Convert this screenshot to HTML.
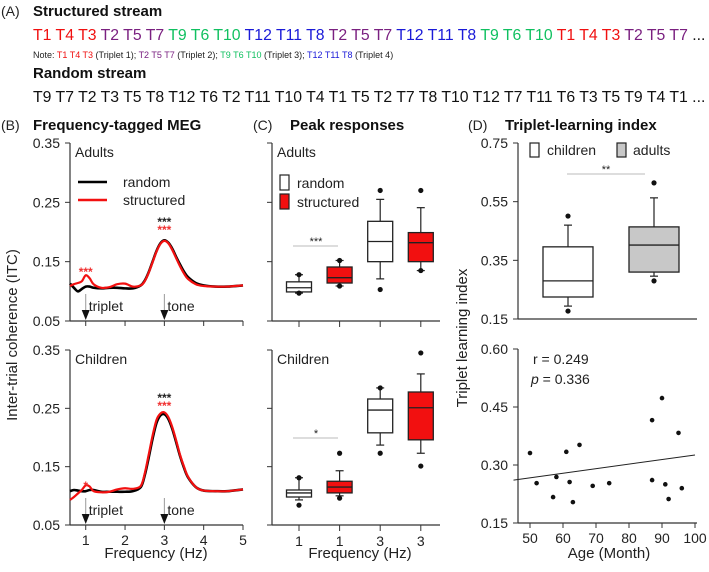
<!DOCTYPE html>
<html><head><meta charset="utf-8"><style>
html,body{margin:0;padding:0;background:#fff;}
svg{display:block;font-family:"Liberation Sans",Arial,sans-serif;}
</style></head><body>
<svg id="fig" width="709" height="572" viewBox="0 0 709 572" xmlns="http://www.w3.org/2000/svg">
<g>
<text x="1" y="16" font-size="14" fill="#222">(A)</text>
<text x="33" y="16" font-size="15" font-weight="bold" fill="#111">Structured stream</text>
<text x="33" y="40" font-size="15.8"><tspan fill="#f01010">T1 T4 T3 </tspan><tspan fill="#7a2080">T2 T5 T7 </tspan><tspan fill="#10c060">T9 T6 T10 </tspan><tspan fill="#1a1ad8">T12 T11 T8 </tspan><tspan fill="#7a2080">T2 T5 T7 </tspan><tspan fill="#1a1ad8">T12 T11 T8 </tspan><tspan fill="#10c060">T9 T6 T10 </tspan><tspan fill="#f01010">T1 T4 T3 </tspan><tspan fill="#7a2080">T2 T5 T7 </tspan><tspan fill="#111">...</tspan></text>
<text x="33" y="58" font-size="9" fill="#222">Note: <tspan fill="#f01010">T1 T4 T3</tspan> (Triplet 1); <tspan fill="#7a2080">T2 T5 T7</tspan> (Triplet 2); <tspan fill="#10c060">T9 T6 T10</tspan> (Triplet 3); <tspan fill="#1a1ad8">T12 T11 T8</tspan> (Triplet 4)</text>
<text x="33" y="78" font-size="15" font-weight="bold" fill="#111">Random stream</text>
<text x="33" y="102" font-size="15.8" fill="#111">T9 T7 T2 T3 T5 T8 T12 T6 T2 T11 T10 T4 T1 T5 T2 T7 T8 T10 T12 T7 T11 T6 T3 T5 T9 T4 T1 ...</text>
</g>
<g id="gB"></g>
<g id="gC"></g>
<g id="gD"></g>
</svg>
<script>
// ---- Panel B data ----
const freqs = [0.6,0.7,0.8,0.9,1.0,1.1,1.2,1.4,1.6,1.8,2.0,2.2,2.4,2.5,2.6,2.7,2.8,2.9,3.0,3.1,3.2,3.3,3.4,3.5,3.6,3.8,4.0,4.3,4.6,5.0];
const adultRandom = [0.113,0.106,0.100,0.104,0.108,0.108,0.106,0.105,0.106,0.106,0.105,0.105,0.110,0.118,0.132,0.150,0.168,0.181,0.186,0.182,0.172,0.158,0.145,0.133,0.124,0.114,0.110,0.108,0.108,0.110];
const adultStructured = [0.109,0.112,0.114,0.117,0.127,0.122,0.112,0.106,0.107,0.112,0.113,0.108,0.110,0.117,0.131,0.149,0.167,0.180,0.185,0.181,0.170,0.156,0.142,0.130,0.121,0.112,0.109,0.108,0.108,0.110];
const childRandom = [0.108,0.110,0.109,0.108,0.108,0.110,0.110,0.107,0.107,0.107,0.107,0.108,0.115,0.135,0.165,0.198,0.225,0.238,0.240,0.232,0.215,0.192,0.168,0.148,0.132,0.115,0.109,0.108,0.108,0.111];
const childStructured = [0.093,0.098,0.104,0.110,0.118,0.116,0.108,0.106,0.107,0.111,0.113,0.112,0.117,0.138,0.170,0.203,0.230,0.241,0.243,0.235,0.218,0.195,0.170,0.150,0.133,0.115,0.109,0.108,0.108,0.111];
const itcTicks = [0.05,0.15,0.25,0.35];
const hzTicks = [1,2,3,4,5];
// ---- Panel C data (whiskerLow, q1, median, q3, whiskerHigh) ----
const boxLabels = ["1","1","3","3"];
const adultBoxes = [[0.097,0.099,0.106,0.116,0.128],[0.109,0.114,0.123,0.141,0.152],[0.121,0.150,0.184,0.218,0.255],[0.135,0.150,0.182,0.199,0.241]];
const adultOutliers = [[0.128,0.097],[0.152,0.109],[0.270,0.103],[0.270,0.135]];
const childBoxes = [[0.093,0.098,0.105,0.110,0.131],[0.100,0.105,0.115,0.125,0.143],[0.187,0.208,0.247,0.266,0.285],[0.173,0.196,0.251,0.278,0.309]];
const childOutliers = [[0.131,0.084],[0.173,0.096],[0.285,0.173],[0.345,0.151]];
// ---- Panel D data ----
const groupNames = ["children","adults"];
const tliBoxes = [[0.194,0.225,0.280,0.396,0.470],[0.296,0.310,0.402,0.464,0.563]];
const tliOutliers = [[0.501,0.177],[0.614,0.280]];
const tliTicks = [0.15,0.35,0.55,0.75];
const ages = [50,52,57,58,61,62,63,65,69,74,87,87,90,91,92,95,96];
const tliValues = [0.331,0.253,0.217,0.269,0.334,0.256,0.204,0.352,0.246,0.253,0.261,0.416,0.473,0.250,0.212,0.383,0.240];
const regIntercept = 0.261, regSlope = 0.00118; // at age 45
const ageTicks = [50,60,70,80,90,100];
const scatTicks = [0.15,0.30,0.45,0.60];

const NS="http://www.w3.org/2000/svg";
function mk(parent,tag,attrs,text){const e=document.createElementNS(NS,tag);for(const k in attrs)e.setAttribute(k,attrs[k]);if(text!==undefined)e.textContent=text;parent.appendChild(e);return e;}
function lin(d0,d1,r0,r1){return v=>r0+(v-d0)/(d1-d0)*(r1-r0);}
function smoothPath(pts){let d=`M${pts[0][0]},${pts[0][1]}`;for(let i=0;i<pts.length-1;i++){const p0=pts[Math.max(0,i-1)],p1=pts[i],p2=pts[i+1],p3=pts[Math.min(pts.length-1,i+2)];const c1=[p1[0]+(p2[0]-p0[0])/6,p1[1]+(p2[1]-p0[1])/6],c2=[p2[0]-(p3[0]-p1[0])/6,p2[1]-(p3[1]-p1[1])/6];d+=` C${c1[0]},${c1[1]} ${c2[0]},${c2[1]} ${p2[0]},${p2[1]}`;}return d;}

// ===== Panel B =====
const gB=document.getElementById('gB');
let t=mk(gB,'text',{x:1,y:130,'font-size':14,fill:'#222'},'(B)');
t=mk(gB,'text',{x:33,y:130,'font-size':15,'font-weight':'bold',fill:'#111'},'Frequency-tagged MEG');
t=mk(gB,'text',{x:0,y:0,'font-size':15,fill:'#222','text-anchor':'middle',transform:'translate(17,335) rotate(-90)'},'Inter-trial coherence (ITC)');
t=mk(gB,'text',{x:156,y:558,'font-size':15,fill:'#222','text-anchor':'middle'},'Frequency (Hz)');
const xB=lin(0.6,5,70,243);
function drawB(top,bot,group,rnd,str,stars){
  const y=lin(0.05,0.35,bot,top);
  const g=mk(gB,'g',{});
  let a=mk(g,'line',{x1:70,y1:top,x2:70,y2:bot,stroke:'#333','stroke-width':1.2});
  a=mk(g,'line',{x1:70,y1:bot,x2:243,y2:bot,stroke:'#333','stroke-width':1.2});
  itcTicks.forEach(v=>{const tk=mk(g,'line',{x1:65,y1:y(v),x2:70,y2:y(v),stroke:'#333'});
    const l=mk(g,'text',{x:60,y:y(v)+5,'font-size':14,fill:'#222','text-anchor':'end'},v.toFixed(2));});
  hzTicks.forEach(v=>{const tk=mk(g,'line',{x1:xB(v),y1:bot,x2:xB(v),y2:bot+5,stroke:'#333'});
    if(group==='children'){const l=mk(g,'text',{x:xB(v),y:bot+20,'font-size':14,fill:'#222','text-anchor':'middle'},String(v));}});
  let p=mk(g,'path',{d:smoothPath(freqs.map((f,i)=>[xB(f),y(rnd[i])])),fill:'none',stroke:'#000','stroke-width':2.6});
  p=mk(g,'path',{d:smoothPath(freqs.map((f,i)=>[xB(f),y(str[i])])),fill:'none',stroke:'#f21010','stroke-width':2.2});
  [[1,'triplet'],[3,'tone']].forEach(([f,lab])=>{const ax=xB(f);
    const ln=mk(g,'line',{x1:ax,y1:bot-27,x2:ax,y2:bot-6,stroke:'#999','stroke-width':1});
    const tr=mk(g,'path',{d:`M${ax-4},${bot-11} L${ax+4},${bot-11} L${ax},${bot-1} Z`,fill:'#111'});
    const tx=mk(g,'text',{x:ax+3,y:bot-10,'font-size':14,fill:'#222'},lab);});
  const gl=mk(g,'text',{x:75,y:top+14,'font-size':14,fill:'#222'},group==='adults'?'Adults':'Children');
  stars.forEach(s=>{const st=mk(g,'text',{x:xB(s[0]),y:s[1],'font-size':12,fill:s[3],'text-anchor':'middle','font-weight':'bold'},s[2]);});
}
drawB(143,321,'adults',adultRandom,adultStructured,[[1,276,'***','#f03030'],[3,226,'***','#222'],[3,234,'***','#f03030']]);
drawB(350,525,'children',childRandom,childStructured,[[1,490,'*','#f03030'],[3,402,'***','#222'],[3,410,'***','#f03030']]);
// legend B
let lg=mk(gB,'line',{x1:78,y1:182,x2:107,y2:182,stroke:'#000','stroke-width':2.6});
lg=mk(gB,'line',{x1:78,y1:200,x2:107,y2:200,stroke:'#f21010','stroke-width':2.4});
lg=mk(gB,'text',{x:123,y:187,'font-size':14,fill:'#222'},'random');
lg=mk(gB,'text',{x:123,y:205,'font-size':14,fill:'#222'},'structured');

// ===== Panel C =====
const gC=document.getElementById('gC');
t=mk(gC,'text',{x:253,y:130,'font-size':14,fill:'#222'},'(C)');
t=mk(gC,'text',{x:290,y:130,'font-size':15,'font-weight':'bold',fill:'#111'},'Peak responses');
t=mk(gC,'text',{x:360,y:558,'font-size':15,fill:'#222','text-anchor':'middle'},'Frequency (Hz)');
const xC=i=>299+i*40.6;
function box(g,cx,w,b,outs,fill,y,name){
  const bg=mk(g,'g',{});
  let l=mk(bg,'line',{x1:cx,y1:y(b[0]),x2:cx,y2:y(b[1]),stroke:'#222','stroke-width':1.2});
  l=mk(bg,'line',{x1:cx,y1:y(b[3]),x2:cx,y2:y(b[4]),stroke:'#222','stroke-width':1.2});
  l=mk(bg,'line',{x1:cx-4,y1:y(b[0]),x2:cx+4,y2:y(b[0]),stroke:'#222','stroke-width':1.2});
  l=mk(bg,'line',{x1:cx-4,y1:y(b[4]),x2:cx+4,y2:y(b[4]),stroke:'#222','stroke-width':1.2});
  l=mk(bg,'rect',{x:cx-w/2,y:y(b[3]),width:w,height:y(b[1])-y(b[3]),fill:fill,stroke:'#222','stroke-width':1.3});
  l=mk(bg,'line',{x1:cx-w/2,y1:y(b[2]),x2:cx+w/2,y2:y(b[2]),stroke:'#222','stroke-width':1.3});
  outs.forEach(o=>{const c=mk(bg,'circle',{cx:cx,cy:y(o),r:2.6,fill:'#111'});});
}
function drawC(top,bot,group,boxes,outs,sig){
  const y=lin(0.05,0.35,bot,top);
  const g=mk(gC,'g',{});
  let a=mk(g,'line',{x1:272,y1:top,x2:272,y2:bot,stroke:'#333','stroke-width':1.2});
  a=mk(g,'line',{x1:272,y1:bot,x2:440,y2:bot,stroke:'#333','stroke-width':1.2});
  itcTicks.forEach(v=>{const tk=mk(g,'line',{x1:267,y1:y(v),x2:272,y2:y(v),stroke:'#333'});});
  boxLabels.forEach((lab,i)=>{const tk=mk(g,'line',{x1:xC(i),y1:bot,x2:xC(i),y2:bot+6,stroke:'#333'});
    if(group==='children'){const l=mk(g,'text',{x:xC(i),y:bot+21,'font-size':14,fill:'#222','text-anchor':'middle'},lab);}});
  boxes.forEach((b,i)=>box(g,xC(i),25,b,outs[i],i%2?'#f21010':'#fff',y,group+(i%2?'-structured-':'-random-')+boxLabels[i]+'hz-box'));
  const gl=mk(g,'text',{x:277,y:top+14,'font-size':14,fill:'#222'},group==='adults'?'Adults':'Children');
  const sl=mk(g,'line',{x1:293,y1:sig[0],x2:338,y2:sig[0],stroke:'#bbb','stroke-width':1});
  const st=mk(g,'text',{x:316,y:sig[0]-1,'font-size':11,fill:'#222','text-anchor':'middle'},sig[1]);
}
drawC(143,321,'adults',adultBoxes,adultOutliers,[246,'***']);
drawC(350,525,'children',childBoxes,childOutliers,[438,'*']);
lg=mk(gC,'rect',{x:280,y:175,width:9,height:15,fill:'#fff',stroke:'#222','stroke-width':1.2});
lg=mk(gC,'rect',{x:280,y:194,width:9,height:15,fill:'#f21010',stroke:'#222','stroke-width':1.2});
lg=mk(gC,'text',{x:297,y:188,'font-size':14,fill:'#222'},'random');
lg=mk(gC,'text',{x:297,y:207,'font-size':14,fill:'#222'},'structured');

// ===== Panel D =====
const gD=document.getElementById('gD');
t=mk(gD,'text',{x:468,y:130,'font-size':14,fill:'#222'},'(D)');
t=mk(gD,'text',{x:505,y:130,'font-size':15,'font-weight':'bold',fill:'#111'},'Triplet-learning index');
t=mk(gD,'text',{x:0,y:0,'font-size':15,fill:'#222','text-anchor':'middle',transform:'translate(467,338) rotate(-90)'},'Triplet learning index');
t=mk(gD,'text',{x:609,y:558,'font-size':15,fill:'#222','text-anchor':'middle'},'Age (Month)');
// box plot
{
  const y=lin(0.15,0.75,319,143);
  const g=mk(gD,'g',{});
  let a=mk(g,'line',{x1:518,y1:143,x2:518,y2:319,stroke:'#333','stroke-width':1.2});
  a=mk(g,'line',{x1:518,y1:319,x2:697,y2:319,stroke:'#333','stroke-width':1.2});
  tliTicks.forEach(v=>{const tk=mk(g,'line',{x1:513,y1:y(v),x2:518,y2:y(v),stroke:'#333'});
    const l=mk(g,'text',{x:508,y:y(v)+5,'font-size':14,fill:'#222','text-anchor':'end'},v.toFixed(2));});
  const cxs=[568,654];
  tliBoxes.forEach((b,i)=>box(g,cxs[i],50,b,tliOutliers[i],i?'#c8c8c8':'#fff',y,groupNames[i]+'-tli-box'));
  const sl=mk(g,'line',{x1:567,y1:174,x2:645,y2:174,stroke:'#bbb','stroke-width':1});
  const st=mk(g,'text',{x:606,y:173,'font-size':11,fill:'#222','text-anchor':'middle'},'**');
  lg=mk(g,'rect',{x:530,y:143,width:9,height:14,fill:'#fff',stroke:'#222','stroke-width':1.2});
  lg=mk(g,'text',{x:547,y:155,'font-size':14,fill:'#222'},'children');
  lg=mk(g,'rect',{x:617,y:143,width:9,height:14,fill:'#c8c8c8',stroke:'#222','stroke-width':1.2});
  lg=mk(g,'text',{x:633,y:155,'font-size':14,fill:'#222'},'adults');
}
// scatter
{
  const y=lin(0.15,0.60,523,349), x=lin(50,100,530,695);
  const g=mk(gD,'g',{});
  let a=mk(g,'line',{x1:518,y1:349,x2:518,y2:523,stroke:'#333','stroke-width':1.2});
  a=mk(g,'line',{x1:518,y1:523,x2:697,y2:523,stroke:'#333','stroke-width':1.2});
  scatTicks.forEach(v=>{const tk=mk(g,'line',{x1:513,y1:y(v),x2:518,y2:y(v),stroke:'#333'});
    const l=mk(g,'text',{x:508,y:y(v)+5,'font-size':14,fill:'#222','text-anchor':'end'},v.toFixed(2));});
  ageTicks.forEach(v=>{const tk=mk(g,'line',{x1:x(v),y1:523,x2:x(v),y2:528,stroke:'#333'});
    const l=mk(g,'text',{x:x(v),y:543,'font-size':14,fill:'#222','text-anchor':'middle'},String(v));});
  const rl=mk(g,'line',{x1:x(45),y1:y(regIntercept),x2:x(100),y2:y(regIntercept+regSlope*55),stroke:'#222','stroke-width':1});
  ages.forEach((ag,i)=>{const c=mk(g,'circle',{cx:x(ag),cy:y(tliValues[i]),r:2.3,fill:'#111'});});
  let s=mk(g,'text',{x:533,y:364,'font-size':14,fill:'#222'},'r = 0.249');
  s=mk(g,'text',{x:531,y:384,'font-size':14,fill:'#222'});
  const ip=mk(s,'tspan',{'font-style':'italic'},'p');
  const rp=mk(s,'tspan',{},' = 0.336');
}
</script>
</body></html>
